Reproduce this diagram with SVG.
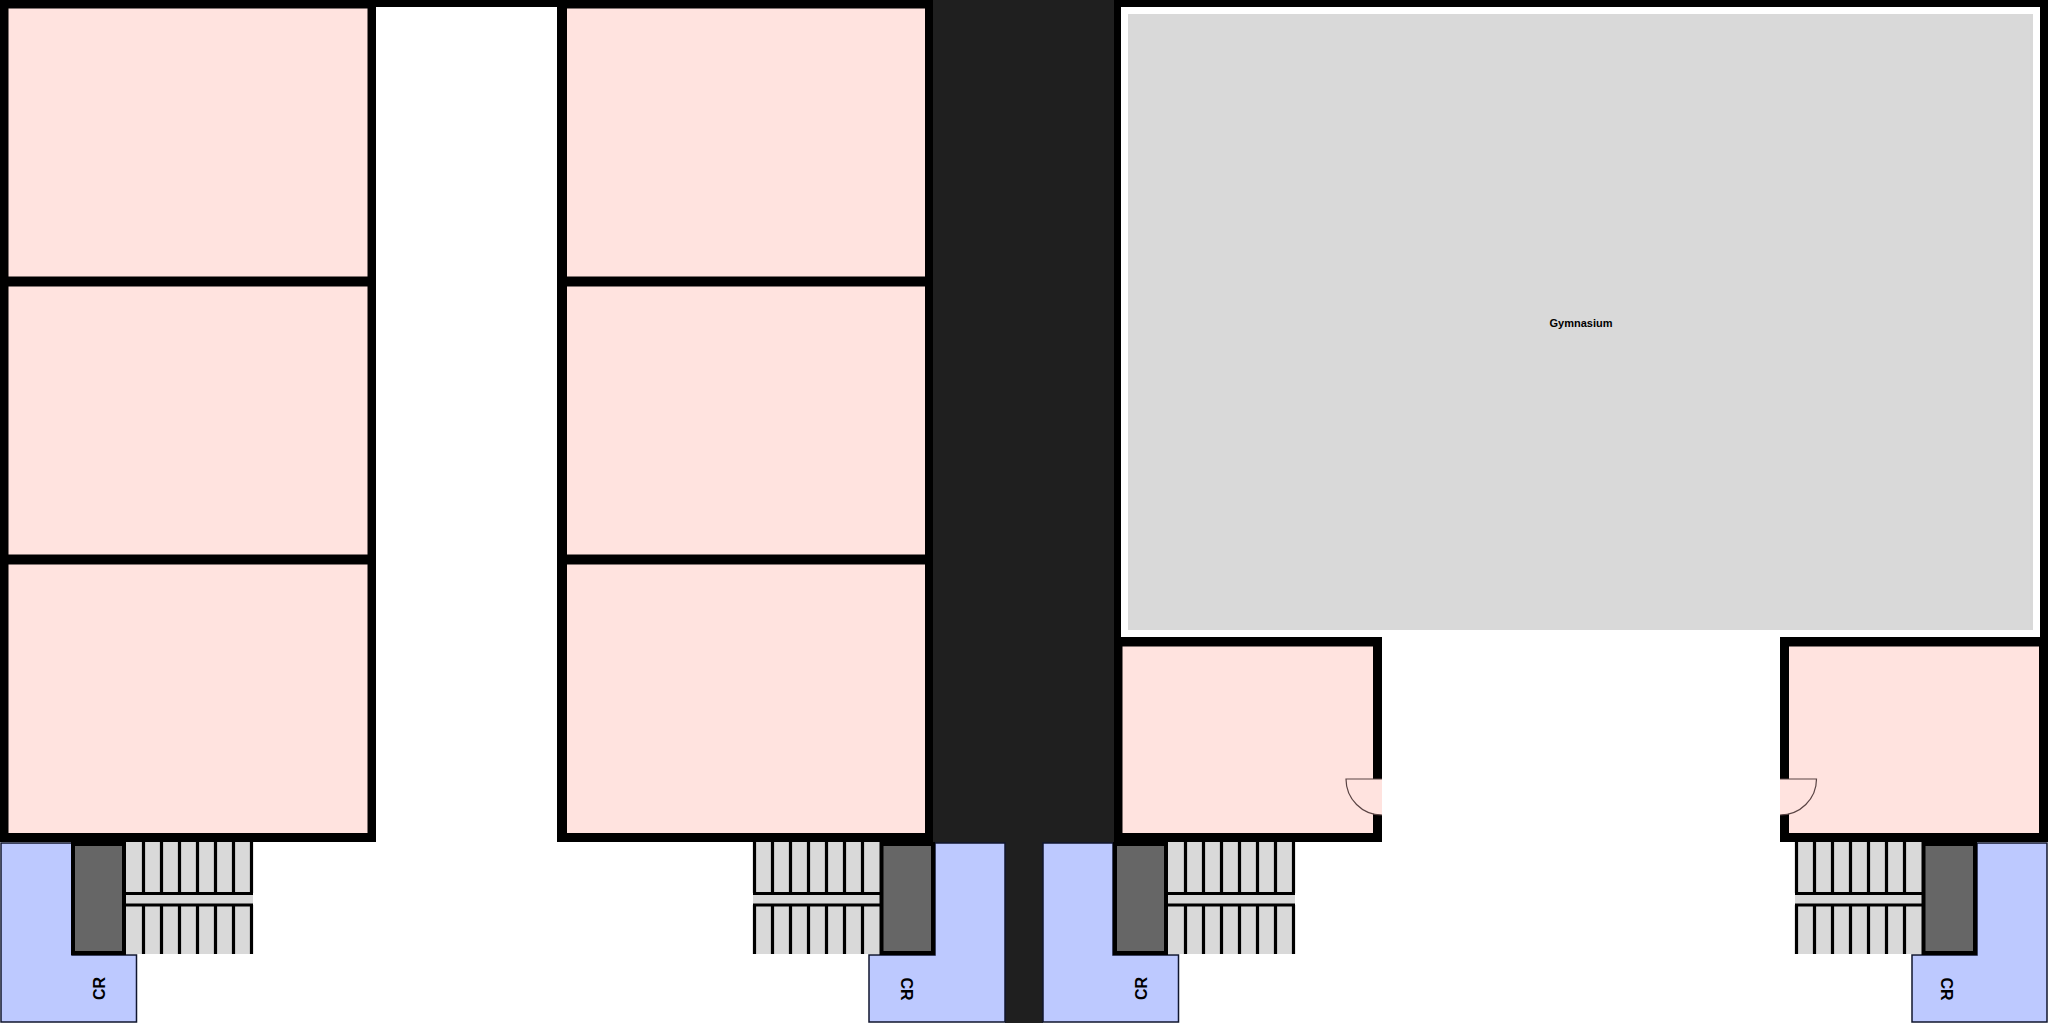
<svg xmlns="http://www.w3.org/2000/svg" width="2048" height="1023" viewBox="0 0 2048 1023">
<defs>
<style>
.w{fill:#000}
.room{fill:#ffe3df}
.gym{fill:#d9d9d9}
.cr{fill:#bdc9ff;stroke:#10162e;stroke-width:1.5}
.well{fill:#666;stroke:#000;stroke-width:4}
.tread{fill:#d9d9d9}
.st{stroke:#000;stroke-width:3.2;fill:none}
.door{fill:#ffe3df;stroke:none}
.arc{fill:none;stroke:#5a4444;stroke-width:1.2}
text{font-family:"Liberation Sans",Arial,sans-serif;font-weight:700;fill:#000;text-anchor:middle}
.l{font-size:16px}
.g{font-size:11px}
</style>
<g id="stairs">
<rect class="tread" x="0" y="842" width="127" height="112"/>
<path class="st" d="M0 893.5H127M0 905H127M17.5 842V893M35.5 842V893M53.5 842V893M71.5 842V893M89.5 842V893M107.5 842V893M125.5 842V893M17.5 905V954M35.5 905V954M53.5 905V954M71.5 905V954M89.5 905V954M107.5 905V954M125.5 905V954"/>
</g>
<g id="stairs-r">
<rect class="tread" x="0" y="842" width="127" height="112"/>
<path class="st" d="M0 893.5H127M0 905H127M1.5 842V893M19.5 842V893M37.5 842V893M55.5 842V893M73.5 842V893M91.5 842V893M109.5 842V893M1.5 905V954M19.5 905V954M37.5 905V954M55.5 905V954M73.5 905V954M91.5 905V954M109.5 905V954"/>
</g>
</defs>
<rect id="background" width="2048" height="1023" fill="#fff"/>
<path id="road" d="M933 0H1114V843H1043V1023H1005V843H933Z" fill="#1f1f1f"/>

<g id="left-wing">
<rect class="w" x="0" y="0" width="376" height="842"/>
<rect class="room" x="8.500" y="8.500" width="359" height="268"/>
<rect class="room" x="8.500" y="286.500" width="359" height="268"/>
<rect class="room" x="8.500" y="564.500" width="359" height="268.500"/>
</g>
<rect id="corridor-wall" class="w" x="376" y="0" width="181" height="7"/>
<g id="middle-wing">
<rect class="w" x="557" y="0" width="376" height="842"/>
<rect class="room" x="567" y="8.500" width="358" height="268"/>
<rect class="room" x="567" y="286.500" width="358" height="268"/>
<rect class="room" x="567" y="564.500" width="358" height="268.500"/>
</g>
<g id="gymnasium">
<path class="w" d="M1114 0H2048V646H2040V7H1121V646H1114Z"/>
<rect class="gym" x="1128" y="14" width="905" height="616"/>
<text class="g" x="1581" y="326.500">Gymnasium</text>
</g>
<g id="room-a">
<rect class="w" x="1114" y="637" width="268" height="205"/>
<rect class="room" x="1122.500" y="646.500" width="250.500" height="186.500"/>
<path class="door" d="M1346 779H1382V815A36 36 0 0 1 1346 779Z"/>
<path class="arc" d="M1382 779H1346A36 36 0 0 0 1382 815"/>
</g>
<g id="room-b">
<rect class="w" x="1780" y="637" width="268" height="205"/>
<rect class="room" x="1789" y="646.500" width="250" height="186.500"/>
<path class="door" d="M1780 779H1816.500A36.500 36 0 0 1 1780 815Z"/>
<path class="arc" d="M1780 779H1816.500A36.500 36 0 0 1 1780 815"/>
</g>

<g id="core-1">
<path class="cr" d="M1 843H72V955H136.500V1022H1Z"/>
<use href="#stairs" x="126"/>
<rect class="well" x="73" y="844" width="51" height="109"/>
<text class="l" transform="translate(105,988.500) rotate(-90)">CR</text>
</g>
<g id="core-2">
<path class="cr" d="M935 843H1005V1022H869V955H935Z"/>
<use href="#stairs-r" x="753"/>
<rect class="well" x="881.500" y="844" width="51.500" height="109"/>
<text class="l" transform="translate(900.500,989) rotate(90)">CR</text>
</g>
<g id="core-3">
<path class="cr" d="M1043 843H1113V955H1178.500V1022H1043Z"/>
<use href="#stairs" x="1168"/>
<rect class="well" x="1115" y="844" width="51" height="109"/>
<text class="l" transform="translate(1147,988.500) rotate(-90)">CR</text>
</g>
<g id="core-4">
<path class="cr" d="M1977 843H2047V1022H1912V955H1977Z"/>
<use href="#stairs-r" x="1795"/>
<rect class="well" x="1923.500" y="844" width="51.500" height="109"/>
<text class="l" transform="translate(1940.500,989) rotate(90)">CR</text>
</g>
</svg>
